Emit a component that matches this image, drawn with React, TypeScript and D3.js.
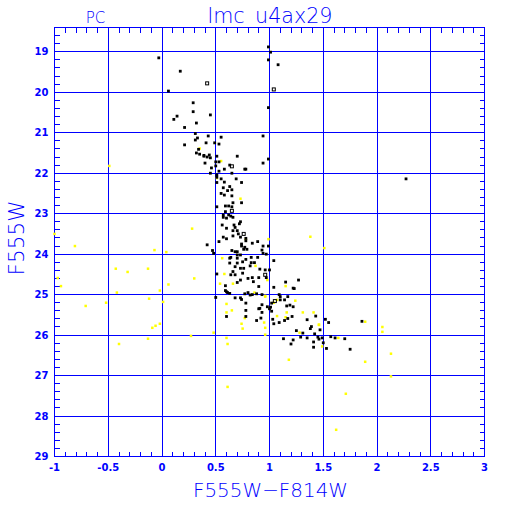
import React, { useRef, useEffect } from "react";
import * as d3 from "d3";

// F555W-F814W colour and F555W magnitude
const blackX = [
  -0.03, 0.17, 0.06, 0.99, 1.01, 0.99, 1.08, 0.99, 0.29, 0.29, 0.45, 0.14, 0.11, 0.32, 0.21, 0.31, 0.33, 0.31, 0.43, 0.55,
  0.21, 0.41, 0.49, 0.53, 0.94, 0.34, 0.32, 0.35, 0.39, 0.44, 0.45, 0.4, 0.51, 0.5, 0.53, 0.5, 0.46, 0.58, 0.63, 0.65,
  0.7, 0.77, 0.78, 0.94, 0.99, 0.53, 0.45, 0.51, 0.55, 0.69, 0.42, 0.39, 2.27,
  0.51, 0.51, 0.74, 0.58, 0.63, 0.57, 0.61, 0.65, 0.55, 0.58, 0.65, 0.66, 0.74, 0.59, 0.62, 0.65, 0.51, 0.59, 0.57, 0.62,
  0.64, 0.6, 0.57, 0.66, 0.73, 0.72, 0.67, 0.68, 0.56, 0.6, 0.7, 0.66, 0.71, 0.66, 0.73, 0.78, 0.57, 0.6, 0.53, 0.78,
  0.42, 0.74, 0.74, 0.77, 0.79, 0.76, 0.84, 0.89, 0.94, 0.99, 0.93, 0.47, 0.48, 0.65, 0.68, 0.7, 0.7, 0.73, 0.94, 0.97,
  0.63, 0.64, 0.7, 0.78, 0.83, 0.89, 1.04, 0.75, 0.7, 0.83, 0.86, 0.63, 0.68, 0.73, 0.76, 0.82, 0.91, 0.96, 1.0, 0.66,
  0.64, 0.68, 0.51, 0.75, 0.8, 0.84, 0.9, 0.97, 0.85, 0.73, 0.7, 0.59, 0.9, 1.04, 1.15, 1.22, 1.27, 0.6, 0.63, 0.77,
  0.8, 0.84, 0.88, 0.93, 1.09, 1.1, 1.17, 1.23, 0.59, 0.61,
  0.5, 0.6, 0.78, 0.78, 0.88, 0.92, 0.93, 0.91, 0.98, 1.01, 1.02, 1.03, 1.04, 1.09, 1.14, 1.17, 1.21, 1.43, 1.35, 1.39,
  1.38, 1.52, 1.55, 1.47, 1.25, 1.31, 1.42, 1.45, 1.46, 1.49, 1.5, 1.53, 1.57, 1.61, 1.7, 1.75, 1.41, 1.29, 1.22, 1.13,
  1.2, 1.86, 0.68, 0.73, 0.74, 0.78, 0.82, 0.9, 0.93, 1.0, 1.02, 1.1, 1.14, 1.16, 1.22, 1.19, 1.35, 1.41,
];
const blackY = [
  19.15, 19.48, 19.97, 18.88, 19.01, 19.2, 19.32, 20.38, 20.26, 20.48, 20.56, 20.59, 20.67, 20.76, 20.87, 21.02, 21.13, 21.18, 21.08, 21.11,
  21.3, 21.25, 21.25, 21.28, 21.08, 21.41, 21.5, 21.53, 21.58, 21.55, 21.62, 21.75, 21.58, 21.72, 21.72, 21.82, 21.87, 21.9, 21.8, 22.0,
  21.58, 21.9, 21.9, 21.75, 21.65, 21.95, 22.0, 22.04, 22.14, 22.14, 21.6, 21.56, 22.14,
  22.1, 22.23, 22.23, 22.22, 22.33, 22.36, 22.43, 22.41, 22.5, 22.54, 22.56, 22.73, 22.73, 22.81, 22.81, 22.83, 22.83, 22.95, 23.03, 23.03,
  23.06, 23.11, 23.09, 23.09, 23.2, 23.25, 23.28, 23.34, 23.28, 23.36, 23.42, 23.42, 23.5, 23.55, 23.58, 23.61, 23.58, 23.62, 23.69, 23.67,
  23.77, 23.75, 23.8, 23.83, 23.88, 23.88, 23.73, 23.69, 23.8, 23.8, 23.9, 23.91, 23.98, 23.91, 23.94, 23.94, 24.02, 24.02, 23.98, 24.0,
  24.1, 24.08, 24.1, 24.13, 24.08, 24.08, 24.16, 24.19, 24.22, 24.21, 24.21, 24.22, 24.31, 24.35, 24.35, 24.29, 24.37, 24.39, 24.39, 24.43,
  24.51, 24.51, 24.49, 24.47, 24.6, 24.58, 24.58, 24.58, 24.68, 24.64, 24.7, 24.78, 24.8, 24.82, 24.69, 24.84, 24.64, 24.93, 24.97, 24.98,
  24.95, 25.0, 24.98, 25.0, 25.0, 25.05, 25.05, 24.85, 24.9, 24.95,
  25.07, 25.54, 25.39, 25.54, 25.64, 25.58, 25.44, 25.34, 25.3, 25.31, 25.21, 25.61, 25.72, 25.69, 25.64, 25.59, 25.54, 25.53, 25.62, 25.79,
  25.84, 25.61, 25.69, 25.87, 25.89, 25.95, 25.97, 26.05, 26.1, 26.07, 26.19, 26.33, 26.04, 26.07, 26.09, 26.35, 26.3, 26.05, 26.12, 26.09,
  26.22, 25.66, 25.08, 25.08, 25.12, 25.21, 25.01, 25.35, 25.25, 25.35, 25.41, 25.13, 25.13, 25.28, 25.3, 25.26, 26.07, 26.17,
];

const openX = [0.42, 1.04, 0.65, 0.65, 0.76, 0.96, 1.05];
const openY = [19.78, 19.93, 21.83, 22.93, 23.5, 24.51, 25.16];

const yellowX = [
  0.35, 0.55, 0.51, 0.73, 0.99, 0.78, 0.56, 0.87, 0.58, 0.3, 0.98, 0.66, 0.54, 1.15, 1.38, 1.51, 0.28, 0.96, 0.6, 0.6,
  0.65, 0.77, 0.74, 0.75, 0.48, 0.6, 0.61, 0.95, 0.96, 0.96, 1.04, 1.07, 1.07, 1.16, 1.15, 1.31, 1.41, 1.46, 1.28, 1.49,
  1.64, 1.18, 1.89, 1.89, 0.96, 0.86, 1.24, -0.49, -1.0, -0.81, -0.07, 0.04, -0.43, -0.32, -0.13, -0.97, -0.94, -0.42, 0.06, -0.02,
  -0.52, -0.71, -0.12, 0.01, -0.02, -0.06, -0.09, -0.13, -0.4, 0.27, 2.05, 2.05, 2.13, 2.13, 1.71, 1.62, 0.61, 1.46,
];
const yellowY = [
  21.39, 21.7, 22.12, 22.63, 23.63, 23.63, 24.1, 24.29, 24.49, 24.6, 24.64, 24.73, 24.73, 24.79, 23.57, 23.85, 23.37, 25.03, 25.23, 25.44,
  25.39, 25.58, 25.72, 25.84, 25.94, 26.07, 26.22, 25.69, 25.82, 25.99, 25.2, 25.13, 25.53, 25.44, 25.56, 25.44, 25.44, 25.75, 25.94, 26.28,
  26.07, 26.61, 25.67, 26.66, 25.05, 24.95, 25.15, 21.82, 23.5, 23.8, 23.9, 23.95, 24.36, 24.44, 24.36, 24.59, 24.79, 24.95, 24.75, 24.9,
  25.2, 25.28, 25.1, 25.18, 25.72, 25.77, 25.82, 26.09, 26.22, 26.02, 25.8, 25.92, 26.46, 27.02, 27.45, 28.34, 27.28, 25.74,
];

const xTicks = [-1, -0.5, 0, 0.5, 1, 1.5, 2, 2.5, 3];
const yTicks = [19, 20, 21, 22, 23, 24, 25, 26, 27, 28, 29];

const BLUE = "#0000ff";

const App = () => {
  const ref = useRef<SVGSVGElement>(null);

  useEffect(() => {
    document.body.style.margin = "0";
    const width = 512;
    const height = 512;
    const left = 54.5, right = 484.5, top = 27.5, bottom = 456.5;

    const x = d3.scaleLinear().domain([-1, 3]).range([left, right]);
    const y = d3.scaleLinear().domain([18.4, 29]).range([top, bottom]);

    const svg = d3.select(ref.current).attr("width", width).attr("height", height);
    svg.selectAll("*").remove();
    svg.append("rect").attr("width", width).attr("height", height).attr("fill", "#fff");

    const grid = svg.append("g").attr("stroke", BLUE).attr("stroke-width", 1).attr("shape-rendering", "crispEdges");

    // grid lines
    grid.selectAll("line.vx").data(xTicks).enter().append("line")
      .attr("x1", (d) => x(d)).attr("x2", (d) => x(d)).attr("y1", top).attr("y2", bottom);
    grid.selectAll("line.hy").data(yTicks).enter().append("line")
      .attr("x1", left).attr("x2", right).attr("y1", (d) => y(d)).attr("y2", (d) => y(d));

    // minor ticks
    const xMinor = d3.range(-1, 3.001, 0.1);
    const yMinor = d3.range(18.6, 29.001, 0.2);
    const tl = 5;
    xMinor.forEach((v) => {
      grid.append("line").attr("x1", x(v)).attr("x2", x(v)).attr("y1", top).attr("y2", top + tl);
      grid.append("line").attr("x1", x(v)).attr("x2", x(v)).attr("y1", bottom).attr("y2", bottom - tl);
    });
    yMinor.forEach((v) => {
      grid.append("line").attr("x1", left).attr("x2", left + tl).attr("y1", y(v)).attr("y2", y(v));
      grid.append("line").attr("x1", right).attr("x2", right - tl).attr("y1", y(v)).attr("y2", y(v));
    });

    grid.append("rect").attr("x", left).attr("y", top)
      .attr("width", right - left).attr("height", bottom - top).attr("fill", "none");

    // tick labels
    const tickFont = "'DejaVu Sans', sans-serif";
    svg.selectAll("text.xt").data(xTicks).enter().append("text")
      .attr("x", (d) => x(d)).attr("y", 471)
      .attr("text-anchor", "middle").attr("fill", BLUE)
      .style("font-family", tickFont).style("font-size", "10px").style("font-weight", "bold")
      .text((d) => `${d}`);
    svg.selectAll("text.yt").data(yTicks).enter().append("text")
      .attr("x", 48.5).attr("y", (d) => y(d) + 3.7)
      .attr("text-anchor", "end").attr("fill", BLUE)
      .style("font-family", tickFont).style("font-size", "10px").style("font-weight", "bold")
      .text((d) => `${d}`);

    // points
    svg.append("g").selectAll("rect").data(yellowX).enter().append("rect")
      .attr("x", (d) => x(d) - 1.25).attr("y", (d, i) => y(yellowY[i]) - 1.25)
      .attr("width", 2.5).attr("height", 2.5).attr("fill", "#ffff00");

    svg.append("g").selectAll("rect").data(blackX).enter().append("rect")
      .attr("x", (d) => x(d) - 1.4).attr("y", (d, i) => y(blackY[i]) - 1.4)
      .attr("width", 2.8).attr("height", 2.8).attr("fill", "#000");

    svg.append("g").selectAll("rect").data(openX).enter().append("rect")
      .attr("x", (d) => x(d) - 1.5).attr("y", (d, i) => y(openY[i]) - 1.5)
      .attr("width", 3).attr("height", 3).attr("fill", "none")
      .attr("stroke", "#000").attr("stroke-width", 1);

    // titles (thin strokes like the original plotting font)
    const labFont = "'DejaVu Sans', sans-serif";
    const label = (t: string, px: number, py: number, size: number, len?: number, rot = false) => {
      const el = svg.append("text")
        .attr("text-anchor", "middle").attr("fill", BLUE)
        .style("font-family", labFont).style("font-size", `${size}px`).style("font-weight", 200)
        .text(t);
      if (rot) el.attr("transform", `translate(${px},${py}) rotate(-90)`);
      else el.attr("x", px).attr("y", py);
      if (len) el.attr("textLength", len).attr("lengthAdjust", "spacingAndGlyphs");
      return el;
    };
    label("lmc_u4ax29", 270, 23, 21, 125);
    label("PC", 95.5, 23, 15);
    label("F555W\u2212F814W", 270.5, 497, 20, 155);
    label("F555W", 24, 238, 22, 75, true);
  }, []);

  return <svg ref={ref}></svg>;
};

export default App;
